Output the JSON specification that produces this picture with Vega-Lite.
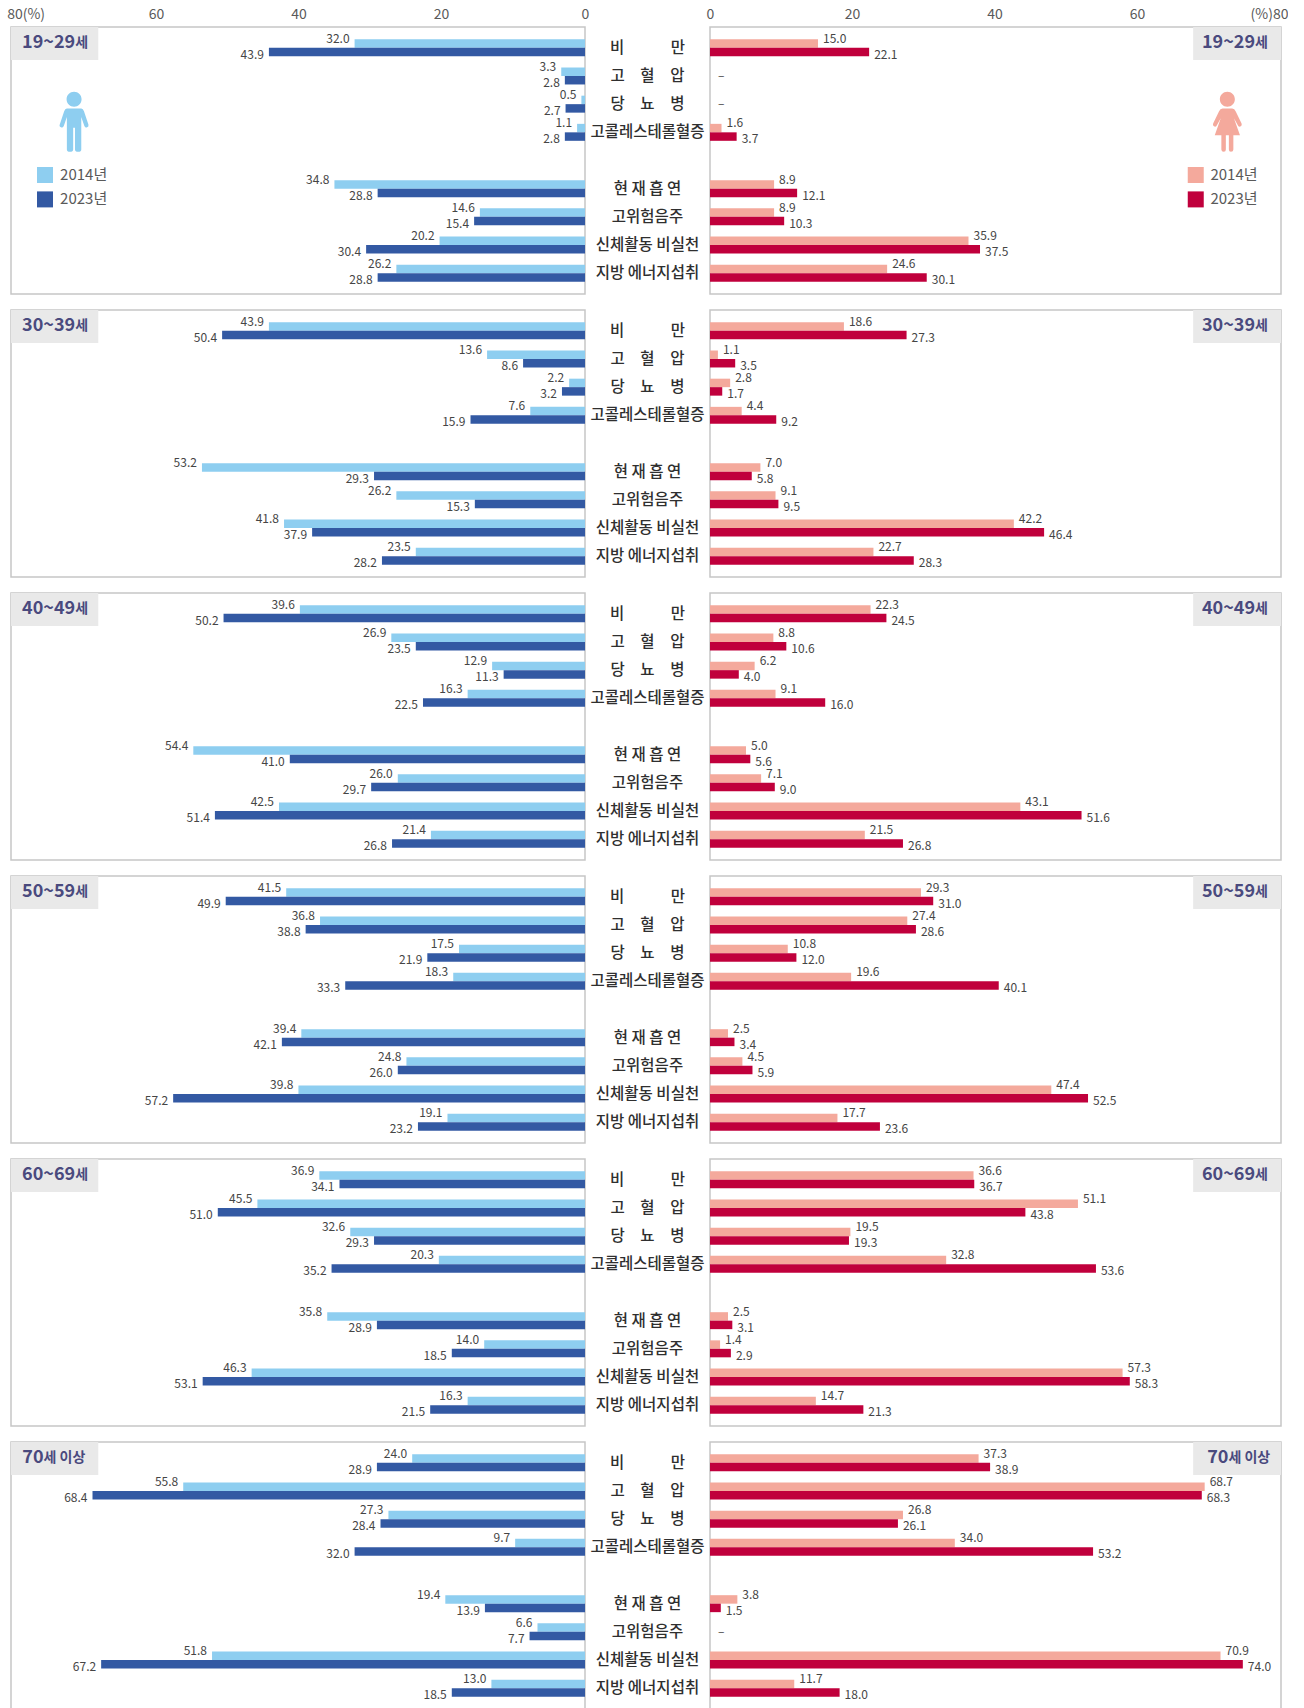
{
"$schema":"https://vega.github.io/schema/vega-lite/v6.json",
"background":"white",
"padding":{"left":6,"top":7,"right":0,"bottom":0},
"autosize":{"type":"pad"},
"config":{"font":"Noto Sans CJK KR","view":{"stroke":null},"concat":{"spacing":0},
"axisX":{"title":null,"domain":false,"ticks":false,"grid":false,"labelPadding":6,"labelFontSize":14,"labelColor":"#5a5a5a","labelFlush":false,"labelOverlap":false}},
"spacing":0,
"resolve":{"scale":{"color":"independent","x":"independent"}},
"datasets":{"rates":[
{"age":"19~29세","sex":"남","item":"비　　　만","year":"2014","value":32.0},{"age":"19~29세","sex":"남","item":"비　　　만","year":"2023","value":43.9},
{"age":"19~29세","sex":"남","item":"고　혈　압","year":"2014","value":3.3},{"age":"19~29세","sex":"남","item":"고　혈　압","year":"2023","value":2.8},
{"age":"19~29세","sex":"남","item":"당　뇨　병","year":"2014","value":0.5},{"age":"19~29세","sex":"남","item":"당　뇨　병","year":"2023","value":2.7},
{"age":"19~29세","sex":"남","item":"고콜레스테롤혈증","year":"2014","value":1.1},{"age":"19~29세","sex":"남","item":"고콜레스테롤혈증","year":"2023","value":2.8},
{"age":"19~29세","sex":"남","item":"현 재 흡 연","year":"2014","value":34.8},{"age":"19~29세","sex":"남","item":"현 재 흡 연","year":"2023","value":28.8},
{"age":"19~29세","sex":"남","item":"고위험음주","year":"2014","value":14.6},{"age":"19~29세","sex":"남","item":"고위험음주","year":"2023","value":15.4},
{"age":"19~29세","sex":"남","item":"신체활동 비실천","year":"2014","value":20.2},{"age":"19~29세","sex":"남","item":"신체활동 비실천","year":"2023","value":30.4},
{"age":"19~29세","sex":"남","item":"지방 에너지섭취","year":"2014","value":26.2},{"age":"19~29세","sex":"남","item":"지방 에너지섭취","year":"2023","value":28.8},
{"age":"30~39세","sex":"남","item":"비　　　만","year":"2014","value":43.9},{"age":"30~39세","sex":"남","item":"비　　　만","year":"2023","value":50.4},
{"age":"30~39세","sex":"남","item":"고　혈　압","year":"2014","value":13.6},{"age":"30~39세","sex":"남","item":"고　혈　압","year":"2023","value":8.6},
{"age":"30~39세","sex":"남","item":"당　뇨　병","year":"2014","value":2.2},{"age":"30~39세","sex":"남","item":"당　뇨　병","year":"2023","value":3.2},
{"age":"30~39세","sex":"남","item":"고콜레스테롤혈증","year":"2014","value":7.6},{"age":"30~39세","sex":"남","item":"고콜레스테롤혈증","year":"2023","value":15.9},
{"age":"30~39세","sex":"남","item":"현 재 흡 연","year":"2014","value":53.2},{"age":"30~39세","sex":"남","item":"현 재 흡 연","year":"2023","value":29.3},
{"age":"30~39세","sex":"남","item":"고위험음주","year":"2014","value":26.2},{"age":"30~39세","sex":"남","item":"고위험음주","year":"2023","value":15.3},
{"age":"30~39세","sex":"남","item":"신체활동 비실천","year":"2014","value":41.8},{"age":"30~39세","sex":"남","item":"신체활동 비실천","year":"2023","value":37.9},
{"age":"30~39세","sex":"남","item":"지방 에너지섭취","year":"2014","value":23.5},{"age":"30~39세","sex":"남","item":"지방 에너지섭취","year":"2023","value":28.2},
{"age":"40~49세","sex":"남","item":"비　　　만","year":"2014","value":39.6},{"age":"40~49세","sex":"남","item":"비　　　만","year":"2023","value":50.2},
{"age":"40~49세","sex":"남","item":"고　혈　압","year":"2014","value":26.9},{"age":"40~49세","sex":"남","item":"고　혈　압","year":"2023","value":23.5},
{"age":"40~49세","sex":"남","item":"당　뇨　병","year":"2014","value":12.9},{"age":"40~49세","sex":"남","item":"당　뇨　병","year":"2023","value":11.3},
{"age":"40~49세","sex":"남","item":"고콜레스테롤혈증","year":"2014","value":16.3},{"age":"40~49세","sex":"남","item":"고콜레스테롤혈증","year":"2023","value":22.5},
{"age":"40~49세","sex":"남","item":"현 재 흡 연","year":"2014","value":54.4},{"age":"40~49세","sex":"남","item":"현 재 흡 연","year":"2023","value":41.0},
{"age":"40~49세","sex":"남","item":"고위험음주","year":"2014","value":26.0},{"age":"40~49세","sex":"남","item":"고위험음주","year":"2023","value":29.7},
{"age":"40~49세","sex":"남","item":"신체활동 비실천","year":"2014","value":42.5},{"age":"40~49세","sex":"남","item":"신체활동 비실천","year":"2023","value":51.4},
{"age":"40~49세","sex":"남","item":"지방 에너지섭취","year":"2014","value":21.4},{"age":"40~49세","sex":"남","item":"지방 에너지섭취","year":"2023","value":26.8},
{"age":"50~59세","sex":"남","item":"비　　　만","year":"2014","value":41.5},{"age":"50~59세","sex":"남","item":"비　　　만","year":"2023","value":49.9},
{"age":"50~59세","sex":"남","item":"고　혈　압","year":"2014","value":36.8},{"age":"50~59세","sex":"남","item":"고　혈　압","year":"2023","value":38.8},
{"age":"50~59세","sex":"남","item":"당　뇨　병","year":"2014","value":17.5},{"age":"50~59세","sex":"남","item":"당　뇨　병","year":"2023","value":21.9},
{"age":"50~59세","sex":"남","item":"고콜레스테롤혈증","year":"2014","value":18.3},{"age":"50~59세","sex":"남","item":"고콜레스테롤혈증","year":"2023","value":33.3},
{"age":"50~59세","sex":"남","item":"현 재 흡 연","year":"2014","value":39.4},{"age":"50~59세","sex":"남","item":"현 재 흡 연","year":"2023","value":42.1},
{"age":"50~59세","sex":"남","item":"고위험음주","year":"2014","value":24.8},{"age":"50~59세","sex":"남","item":"고위험음주","year":"2023","value":26.0},
{"age":"50~59세","sex":"남","item":"신체활동 비실천","year":"2014","value":39.8},{"age":"50~59세","sex":"남","item":"신체활동 비실천","year":"2023","value":57.2},
{"age":"50~59세","sex":"남","item":"지방 에너지섭취","year":"2014","value":19.1},{"age":"50~59세","sex":"남","item":"지방 에너지섭취","year":"2023","value":23.2},
{"age":"60~69세","sex":"남","item":"비　　　만","year":"2014","value":36.9},{"age":"60~69세","sex":"남","item":"비　　　만","year":"2023","value":34.1},
{"age":"60~69세","sex":"남","item":"고　혈　압","year":"2014","value":45.5},{"age":"60~69세","sex":"남","item":"고　혈　압","year":"2023","value":51.0},
{"age":"60~69세","sex":"남","item":"당　뇨　병","year":"2014","value":32.6},{"age":"60~69세","sex":"남","item":"당　뇨　병","year":"2023","value":29.3},
{"age":"60~69세","sex":"남","item":"고콜레스테롤혈증","year":"2014","value":20.3},{"age":"60~69세","sex":"남","item":"고콜레스테롤혈증","year":"2023","value":35.2},
{"age":"60~69세","sex":"남","item":"현 재 흡 연","year":"2014","value":35.8},{"age":"60~69세","sex":"남","item":"현 재 흡 연","year":"2023","value":28.9},
{"age":"60~69세","sex":"남","item":"고위험음주","year":"2014","value":14.0},{"age":"60~69세","sex":"남","item":"고위험음주","year":"2023","value":18.5},
{"age":"60~69세","sex":"남","item":"신체활동 비실천","year":"2014","value":46.3},{"age":"60~69세","sex":"남","item":"신체활동 비실천","year":"2023","value":53.1},
{"age":"60~69세","sex":"남","item":"지방 에너지섭취","year":"2014","value":16.3},{"age":"60~69세","sex":"남","item":"지방 에너지섭취","year":"2023","value":21.5},
{"age":"70세 이상","sex":"남","item":"비　　　만","year":"2014","value":24.0},{"age":"70세 이상","sex":"남","item":"비　　　만","year":"2023","value":28.9},
{"age":"70세 이상","sex":"남","item":"고　혈　압","year":"2014","value":55.8},{"age":"70세 이상","sex":"남","item":"고　혈　압","year":"2023","value":68.4},
{"age":"70세 이상","sex":"남","item":"당　뇨　병","year":"2014","value":27.3},{"age":"70세 이상","sex":"남","item":"당　뇨　병","year":"2023","value":28.4},
{"age":"70세 이상","sex":"남","item":"고콜레스테롤혈증","year":"2014","value":9.7},{"age":"70세 이상","sex":"남","item":"고콜레스테롤혈증","year":"2023","value":32.0},
{"age":"70세 이상","sex":"남","item":"현 재 흡 연","year":"2014","value":19.4},{"age":"70세 이상","sex":"남","item":"현 재 흡 연","year":"2023","value":13.9},
{"age":"70세 이상","sex":"남","item":"고위험음주","year":"2014","value":6.6},{"age":"70세 이상","sex":"남","item":"고위험음주","year":"2023","value":7.7},
{"age":"70세 이상","sex":"남","item":"신체활동 비실천","year":"2014","value":51.8},{"age":"70세 이상","sex":"남","item":"신체활동 비실천","year":"2023","value":67.2},
{"age":"70세 이상","sex":"남","item":"지방 에너지섭취","year":"2014","value":13.0},{"age":"70세 이상","sex":"남","item":"지방 에너지섭취","year":"2023","value":18.5},
{"age":"19~29세","sex":"여","item":"비　　　만","year":"2014","value":15.0},{"age":"19~29세","sex":"여","item":"비　　　만","year":"2023","value":22.1},
{"age":"19~29세","sex":"여","item":"고　혈　압","year":"2014","value":null},{"age":"19~29세","sex":"여","item":"고　혈　압","year":"2023","value":null},
{"age":"19~29세","sex":"여","item":"당　뇨　병","year":"2014","value":null},{"age":"19~29세","sex":"여","item":"당　뇨　병","year":"2023","value":null},
{"age":"19~29세","sex":"여","item":"고콜레스테롤혈증","year":"2014","value":1.6},{"age":"19~29세","sex":"여","item":"고콜레스테롤혈증","year":"2023","value":3.7},
{"age":"19~29세","sex":"여","item":"현 재 흡 연","year":"2014","value":8.9},{"age":"19~29세","sex":"여","item":"현 재 흡 연","year":"2023","value":12.1},
{"age":"19~29세","sex":"여","item":"고위험음주","year":"2014","value":8.9},{"age":"19~29세","sex":"여","item":"고위험음주","year":"2023","value":10.3},
{"age":"19~29세","sex":"여","item":"신체활동 비실천","year":"2014","value":35.9},{"age":"19~29세","sex":"여","item":"신체활동 비실천","year":"2023","value":37.5},
{"age":"19~29세","sex":"여","item":"지방 에너지섭취","year":"2014","value":24.6},{"age":"19~29세","sex":"여","item":"지방 에너지섭취","year":"2023","value":30.1},
{"age":"30~39세","sex":"여","item":"비　　　만","year":"2014","value":18.6},{"age":"30~39세","sex":"여","item":"비　　　만","year":"2023","value":27.3},
{"age":"30~39세","sex":"여","item":"고　혈　압","year":"2014","value":1.1},{"age":"30~39세","sex":"여","item":"고　혈　압","year":"2023","value":3.5},
{"age":"30~39세","sex":"여","item":"당　뇨　병","year":"2014","value":2.8},{"age":"30~39세","sex":"여","item":"당　뇨　병","year":"2023","value":1.7},
{"age":"30~39세","sex":"여","item":"고콜레스테롤혈증","year":"2014","value":4.4},{"age":"30~39세","sex":"여","item":"고콜레스테롤혈증","year":"2023","value":9.2},
{"age":"30~39세","sex":"여","item":"현 재 흡 연","year":"2014","value":7.0},{"age":"30~39세","sex":"여","item":"현 재 흡 연","year":"2023","value":5.8},
{"age":"30~39세","sex":"여","item":"고위험음주","year":"2014","value":9.1},{"age":"30~39세","sex":"여","item":"고위험음주","year":"2023","value":9.5},
{"age":"30~39세","sex":"여","item":"신체활동 비실천","year":"2014","value":42.2},{"age":"30~39세","sex":"여","item":"신체활동 비실천","year":"2023","value":46.4},
{"age":"30~39세","sex":"여","item":"지방 에너지섭취","year":"2014","value":22.7},{"age":"30~39세","sex":"여","item":"지방 에너지섭취","year":"2023","value":28.3},
{"age":"40~49세","sex":"여","item":"비　　　만","year":"2014","value":22.3},{"age":"40~49세","sex":"여","item":"비　　　만","year":"2023","value":24.5},
{"age":"40~49세","sex":"여","item":"고　혈　압","year":"2014","value":8.8},{"age":"40~49세","sex":"여","item":"고　혈　압","year":"2023","value":10.6},
{"age":"40~49세","sex":"여","item":"당　뇨　병","year":"2014","value":6.2},{"age":"40~49세","sex":"여","item":"당　뇨　병","year":"2023","value":4.0},
{"age":"40~49세","sex":"여","item":"고콜레스테롤혈증","year":"2014","value":9.1},{"age":"40~49세","sex":"여","item":"고콜레스테롤혈증","year":"2023","value":16.0},
{"age":"40~49세","sex":"여","item":"현 재 흡 연","year":"2014","value":5.0},{"age":"40~49세","sex":"여","item":"현 재 흡 연","year":"2023","value":5.6},
{"age":"40~49세","sex":"여","item":"고위험음주","year":"2014","value":7.1},{"age":"40~49세","sex":"여","item":"고위험음주","year":"2023","value":9.0},
{"age":"40~49세","sex":"여","item":"신체활동 비실천","year":"2014","value":43.1},{"age":"40~49세","sex":"여","item":"신체활동 비실천","year":"2023","value":51.6},
{"age":"40~49세","sex":"여","item":"지방 에너지섭취","year":"2014","value":21.5},{"age":"40~49세","sex":"여","item":"지방 에너지섭취","year":"2023","value":26.8},
{"age":"50~59세","sex":"여","item":"비　　　만","year":"2014","value":29.3},{"age":"50~59세","sex":"여","item":"비　　　만","year":"2023","value":31.0},
{"age":"50~59세","sex":"여","item":"고　혈　압","year":"2014","value":27.4},{"age":"50~59세","sex":"여","item":"고　혈　압","year":"2023","value":28.6},
{"age":"50~59세","sex":"여","item":"당　뇨　병","year":"2014","value":10.8},{"age":"50~59세","sex":"여","item":"당　뇨　병","year":"2023","value":12.0},
{"age":"50~59세","sex":"여","item":"고콜레스테롤혈증","year":"2014","value":19.6},{"age":"50~59세","sex":"여","item":"고콜레스테롤혈증","year":"2023","value":40.1},
{"age":"50~59세","sex":"여","item":"현 재 흡 연","year":"2014","value":2.5},{"age":"50~59세","sex":"여","item":"현 재 흡 연","year":"2023","value":3.4},
{"age":"50~59세","sex":"여","item":"고위험음주","year":"2014","value":4.5},{"age":"50~59세","sex":"여","item":"고위험음주","year":"2023","value":5.9},
{"age":"50~59세","sex":"여","item":"신체활동 비실천","year":"2014","value":47.4},{"age":"50~59세","sex":"여","item":"신체활동 비실천","year":"2023","value":52.5},
{"age":"50~59세","sex":"여","item":"지방 에너지섭취","year":"2014","value":17.7},{"age":"50~59세","sex":"여","item":"지방 에너지섭취","year":"2023","value":23.6},
{"age":"60~69세","sex":"여","item":"비　　　만","year":"2014","value":36.6},{"age":"60~69세","sex":"여","item":"비　　　만","year":"2023","value":36.7},
{"age":"60~69세","sex":"여","item":"고　혈　압","year":"2014","value":51.1},{"age":"60~69세","sex":"여","item":"고　혈　압","year":"2023","value":43.8},
{"age":"60~69세","sex":"여","item":"당　뇨　병","year":"2014","value":19.5},{"age":"60~69세","sex":"여","item":"당　뇨　병","year":"2023","value":19.3},
{"age":"60~69세","sex":"여","item":"고콜레스테롤혈증","year":"2014","value":32.8},{"age":"60~69세","sex":"여","item":"고콜레스테롤혈증","year":"2023","value":53.6},
{"age":"60~69세","sex":"여","item":"현 재 흡 연","year":"2014","value":2.5},{"age":"60~69세","sex":"여","item":"현 재 흡 연","year":"2023","value":3.1},
{"age":"60~69세","sex":"여","item":"고위험음주","year":"2014","value":1.4},{"age":"60~69세","sex":"여","item":"고위험음주","year":"2023","value":2.9},
{"age":"60~69세","sex":"여","item":"신체활동 비실천","year":"2014","value":57.3},{"age":"60~69세","sex":"여","item":"신체활동 비실천","year":"2023","value":58.3},
{"age":"60~69세","sex":"여","item":"지방 에너지섭취","year":"2014","value":14.7},{"age":"60~69세","sex":"여","item":"지방 에너지섭취","year":"2023","value":21.3},
{"age":"70세 이상","sex":"여","item":"비　　　만","year":"2014","value":37.3},{"age":"70세 이상","sex":"여","item":"비　　　만","year":"2023","value":38.9},
{"age":"70세 이상","sex":"여","item":"고　혈　압","year":"2014","value":68.7},{"age":"70세 이상","sex":"여","item":"고　혈　압","year":"2023","value":68.3},
{"age":"70세 이상","sex":"여","item":"당　뇨　병","year":"2014","value":26.8},{"age":"70세 이상","sex":"여","item":"당　뇨　병","year":"2023","value":26.1},
{"age":"70세 이상","sex":"여","item":"고콜레스테롤혈증","year":"2014","value":34.0},{"age":"70세 이상","sex":"여","item":"고콜레스테롤혈증","year":"2023","value":53.2},
{"age":"70세 이상","sex":"여","item":"현 재 흡 연","year":"2014","value":3.8},{"age":"70세 이상","sex":"여","item":"현 재 흡 연","year":"2023","value":1.5},
{"age":"70세 이상","sex":"여","item":"고위험음주","year":"2014","value":null},{"age":"70세 이상","sex":"여","item":"고위험음주","year":"2023","value":null},
{"age":"70세 이상","sex":"여","item":"신체활동 비실천","year":"2014","value":70.9},{"age":"70세 이상","sex":"여","item":"신체활동 비실천","year":"2023","value":74.0},
{"age":"70세 이상","sex":"여","item":"지방 에너지섭취","year":"2014","value":11.7},{"age":"70세 이상","sex":"여","item":"지방 에너지섭취","year":"2023","value":18.0}
]},
"data":{"name":"rates"},
"hconcat":[
{"transform":[{"filter":"datum.sex=='남'"}],
"facet":{"row":{"field":"age","type":"nominal","header":null}},
"spacing":16,"bounds":"flush",
"spec":{
"width":574,"height":267,
"view":{"stroke":"#c6c6c6","strokeWidth":1.5},
"resolve":{"scale":{"y":"independent","yOffset":"independent"}},
"layer":[
{"mark":{"type":"bar"},
"encoding":{
"x":{"field":"value","type":"quantitative","stack":null,"scale":{"domain":[0,79.72],"reverse":true,"nice":false},
"axis":{"orient":"top","values":[0,20,40,60,79.7],"labelExpr":"datum.value>70?'80(%)':datum.label","labelAlign":{"condition":{"test":"datum.value>70","value":"left"},"value":"center"},"labelOffset":{"condition":[{"test":"datum.value>70","value":-4.5},{"test":"datum.value==60","value":3},{"test":"datum.value==40","value":1.4}],"value":0}}},
"y":{"field":"item","type":"nominal","axis":null,"scale":{"type":"band","domain":["비　　　만","고　혈　압","당　뇨　병","고콜레스테롤혈증"," ","현 재 흡 연","고위험음주","신체활동 비실천","지방 에너지섭취"],"paddingInner":0,"paddingOuter":0.239}},
"yOffset":{"field":"year","scale":{"domain":["2014","2023"],"paddingInner":0,"paddingOuter":0.66}},
"color":{"field":"year","type":"nominal","legend":null,"scale":{"domain":["2014","2023"],"range":["#8ECEF0","#3359A3"]}}}},
{"transform":[{"filter":"datum.item=='비　　　만'&&datum.year=='2014'"}],
"mark":{"type":"rect","color":"#e9e9e9"},
"encoding":{"x":{"datum":79.72,"type":"quantitative","axis":{"orient":"top","values":[0,20,40,60,79.7],"labelExpr":"datum.value>70?'80(%)':datum.label"}},"x2":{"datum":67.6},"y":{"datum":0,"type":"quantitative","scale":{"domain":[0,1],"reverse":true},"axis":null},"y2":{"datum":0.124}}},
{"transform":[{"filter":"datum.year=='2014'"}],
"mark":{"type":"text","align":"right","baseline":"middle","dx":-5,"dy":-3,"fontSize":12,"color":"#454545"},
"encoding":{"x":{"field":"value","type":"quantitative","axis":{"orient":"top","values":[0,20,40,60,79.7],"labelExpr":"datum.value>70?'80(%)':datum.label"}},
"y":{"field":"item","type":"nominal","axis":null,"scale":{"type":"band","domain":["비　　　만","고　혈　압","당　뇨　병","고콜레스테롤혈증"," ","현 재 흡 연","고위험음주","신체활동 비실천","지방 에너지섭취"],"paddingInner":0,"paddingOuter":0.239}},
"yOffset":{"field":"year","scale":{"domain":["2014","2023"],"paddingInner":0,"paddingOuter":0.66}},
"text":{"field":"value","type":"quantitative","format":".1f"}}},
{"transform":[{"filter":"datum.year=='2023'"}],
"mark":{"type":"text","align":"right","baseline":"middle","dx":-5,"dy":1,"fontSize":12,"color":"#454545"},
"encoding":{"x":{"field":"value","type":"quantitative","axis":{"orient":"top","values":[0,20,40,60,79.7],"labelExpr":"datum.value>70?'80(%)':datum.label"}},
"y":{"field":"item","type":"nominal","axis":null,"scale":{"type":"band","domain":["비　　　만","고　혈　압","당　뇨　병","고콜레스테롤혈증"," ","현 재 흡 연","고위험음주","신체활동 비실천","지방 에너지섭취"],"paddingInner":0,"paddingOuter":0.239}},
"yOffset":{"field":"year","scale":{"domain":["2014","2023"],"paddingInner":0,"paddingOuter":0.66}},
"text":{"field":"value","type":"quantitative","format":".1f"}}},
{"transform":[{"filter":"datum.item=='비　　　만'&&datum.year=='2014'&&datum.age!='70세 이상'"},{"calculate":"split(datum.age,'세')[0]","as":"num"}],
"mark":{"type":"text","align":"right","baseline":"middle","fontSize":18,"fontWeight":"bold","color":"#4A4A7E"},
"encoding":{"x":{"datum":70.8,"type":"quantitative","axis":{"orient":"top","values":[0,20,40,60,79.7],"labelExpr":"datum.value>70?'80(%)':datum.label"}},"y":{"datum":0.061,"type":"quantitative","scale":{"domain":[0,1],"reverse":true},"axis":null},"text":{"field":"num"}}},
{"transform":[{"filter":"datum.item=='비　　　만'&&datum.year=='2014'&&datum.age!='70세 이상'"},{"calculate":"'세'","as":"unit"}],
"mark":{"type":"text","align":"left","baseline":"middle","fontSize":14,"fontWeight":"bold","color":"#4A4A7E"},
"encoding":{"x":{"datum":70.8,"type":"quantitative","axis":{"orient":"top","values":[0,20,40,60,79.7],"labelExpr":"datum.value>70?'80(%)':datum.label"}},"y":{"datum":0.061,"type":"quantitative","scale":{"domain":[0,1],"reverse":true},"axis":null},"text":{"field":"unit"}}},
{"transform":[{"filter":"datum.item=='비　　　만'&&datum.year=='2014'&&datum.age=='70세 이상'"},{"calculate":"split(datum.age,'세')[0]","as":"num"}],
"mark":{"type":"text","align":"right","baseline":"middle","fontSize":18,"fontWeight":"bold","color":"#4A4A7E"},
"encoding":{"x":{"datum":75.2,"type":"quantitative","axis":{"orient":"top","values":[0,20,40,60,79.7],"labelExpr":"datum.value>70?'80(%)':datum.label"}},"y":{"datum":0.061,"type":"quantitative","scale":{"domain":[0,1],"reverse":true},"axis":null},"text":{"field":"num"}}},
{"transform":[{"filter":"datum.item=='비　　　만'&&datum.year=='2014'&&datum.age=='70세 이상'"},{"calculate":"'세 이상'","as":"unit"}],
"mark":{"type":"text","align":"left","baseline":"middle","fontSize":14,"fontWeight":"bold","color":"#4A4A7E"},
"encoding":{"x":{"datum":75.2,"type":"quantitative","axis":{"orient":"top","values":[0,20,40,60,79.7],"labelExpr":"datum.value>70?'80(%)':datum.label"}},"y":{"datum":0.061,"type":"quantitative","scale":{"domain":[0,1],"reverse":true},"axis":null},"text":{"field":"unit"}}},
{"transform":[{"filter":"datum.age=='19~29세'&&datum.item=='비　　　만'&&datum.year=='2014'"}],
"mark":{"type":"point","shape":"M0,-1A.25,.25 0 1,1 0,-.5A.25,.25 0 1,1 0,-1ZM-.24,-.44L.24,-.44Q.3,-.44 .33,-.35L.48,.1Q.5,.17 .42,.19Q.37,.2 .34,.13L.24,-.16L.24,.92Q.24,1 .14,1Q.03,1 .03,.92L.03,.2L-.03,.2L-.03,.92Q-.03,1 -.14,1Q-.24,1 -.24,.92L-.24,-.16L-.34,.13Q-.37,.2 -.42,.19Q-.5,.17 -.48,.1L-.33,-.35Q-.3,-.44 -.24,-.44Z","size":3600,"filled":true,"opacity":1,"color":"#8ECEF0","strokeWidth":0},
"encoding":{"x":{"datum":70.96,"type":"quantitative","axis":{"orient":"top","values":[0,20,40,60,79.7],"labelExpr":"datum.value>70?'80(%)':datum.label"}},"y":{"datum":0.355,"type":"quantitative","scale":{"domain":[0,1],"reverse":true},"axis":null}}},
{"transform":[{"filter":"datum.age=='19~29세'&&datum.item=='비　　　만'"}],
"mark":{"type":"square","size":256,"opacity":1},
"encoding":{"x":{"datum":75,"type":"quantitative","axis":{"orient":"top","values":[0,20,40,60,79.7],"labelExpr":"datum.value>70?'80(%)':datum.label"}},"y":{"field":"year","type":"nominal","axis":null,"scale":{"type":"point","padding":0,"domain":["2014","2023"],"range":[148,172.4]}},"color":{"field":"year","type":"nominal","legend":null}}},
{"transform":[{"filter":"datum.age=='19~29세'&&datum.item=='비　　　만'"},{"calculate":"datum.year+'년'","as":"yearLabel"}],
"mark":{"type":"text","align":"left","baseline":"middle","fontSize":15,"color":"#5a5a5a"},
"encoding":{"x":{"datum":72.9,"type":"quantitative","axis":{"orient":"top","values":[0,20,40,60,79.7],"labelExpr":"datum.value>70?'80(%)':datum.label"}},"y":{"field":"year","type":"nominal","axis":null,"scale":{"type":"point","padding":0,"domain":["2014","2023"],"range":[148,172.4]}},"text":{"field":"yearLabel"}}}
]}},
{"transform":[{"filter":"datum.sex=='남'&&datum.year=='2014'"}],
"facet":{"row":{"field":"age","type":"nominal","header":null}},
"spacing":16,"bounds":"flush",
"spec":{
"width":117,"height":267,
"mark":{"type":"text","align":"center","baseline":"middle","fontSize":15.5,"fontWeight":500,"color":"#2f2f2f"},
"encoding":{
"x":{"datum":0.5,"type":"quantitative","scale":{"domain":[0,1]},"axis":{"orient":"top","values":[0.5],"labelColor":"transparent","labelExpr":"'0'"}},
"y":{"field":"item","type":"nominal","axis":null,"scale":{"type":"band","domain":["비　　　만","고　혈　압","당　뇨　병","고콜레스테롤혈증"," ","현 재 흡 연","고위험음주","신체활동 비실천","지방 에너지섭취"],"paddingInner":0,"paddingOuter":0.239}},
"text":{"field":"item"}}}},
{"transform":[{"filter":"datum.sex=='여'"}],
"facet":{"row":{"field":"age","type":"nominal","header":null}},
"spacing":16,"bounds":"flush",
"spec":{
"width":571,"height":267,
"view":{"stroke":"#c6c6c6","strokeWidth":1.5},
"resolve":{"scale":{"y":"independent","yOffset":"independent"}},
"layer":[
{"mark":{"type":"bar"},
"encoding":{
"x":{"field":"value","type":"quantitative","stack":null,"scale":{"domain":[0,79.3],"nice":false},
"axis":{"orient":"top","values":[0,20,40,60,79.3],"labelExpr":"datum.value>70?'(%)80':datum.label","labelAlign":{"condition":{"test":"datum.value>70","value":"right"},"value":"center"},"labelOffset":{"condition":[{"test":"datum.value>70","value":7},{"test":"datum.value==60","value":-5},{"test":"datum.value==40","value":-3.5},{"test":"datum.value==20","value":-2}],"value":0}}},
"y":{"field":"item","type":"nominal","axis":null,"scale":{"type":"band","domain":["비　　　만","고　혈　압","당　뇨　병","고콜레스테롤혈증"," ","현 재 흡 연","고위험음주","신체활동 비실천","지방 에너지섭취"],"paddingInner":0,"paddingOuter":0.239}},
"yOffset":{"field":"year","scale":{"domain":["2014","2023"],"paddingInner":0,"paddingOuter":0.66}},
"color":{"field":"year","type":"nominal","legend":null,"scale":{"domain":["2014","2023"],"range":["#F4A99C","#C0003C"]}}}},
{"transform":[{"filter":"datum.item=='비　　　만'&&datum.year=='2014'"}],
"mark":{"type":"rect","color":"#e9e9e9"},
"encoding":{"x":{"datum":67.1,"type":"quantitative","axis":{"orient":"top","values":[0,20,40,60,79.3],"labelExpr":"datum.value>70?'(%)80':datum.label"}},"x2":{"datum":79.3},"y":{"datum":0,"type":"quantitative","scale":{"domain":[0,1],"reverse":true},"axis":null},"y2":{"datum":0.124}}},
{"transform":[{"filter":"datum.year=='2014'&&datum.value!=null"}],
"mark":{"type":"text","align":"left","baseline":"middle","dx":5,"dy":-3,"fontSize":12,"color":"#454545"},
"encoding":{"x":{"field":"value","type":"quantitative","axis":{"orient":"top","values":[0,20,40,60,79.3],"labelExpr":"datum.value>70?'(%)80':datum.label"}},
"y":{"field":"item","type":"nominal","axis":null,"scale":{"type":"band","domain":["비　　　만","고　혈　압","당　뇨　병","고콜레스테롤혈증"," ","현 재 흡 연","고위험음주","신체활동 비실천","지방 에너지섭취"],"paddingInner":0,"paddingOuter":0.239}},
"yOffset":{"field":"year","scale":{"domain":["2014","2023"],"paddingInner":0,"paddingOuter":0.66}},
"text":{"field":"value","type":"quantitative","format":".1f"}}},
{"transform":[{"filter":"datum.year=='2023'&&datum.value!=null"}],
"mark":{"type":"text","align":"left","baseline":"middle","dx":5,"dy":1,"fontSize":12,"color":"#454545"},
"encoding":{"x":{"field":"value","type":"quantitative","axis":{"orient":"top","values":[0,20,40,60,79.3],"labelExpr":"datum.value>70?'(%)80':datum.label"}},
"y":{"field":"item","type":"nominal","axis":null,"scale":{"type":"band","domain":["비　　　만","고　혈　압","당　뇨　병","고콜레스테롤혈증"," ","현 재 흡 연","고위험음주","신체활동 비실천","지방 에너지섭취"],"paddingInner":0,"paddingOuter":0.239}},
"yOffset":{"field":"year","scale":{"domain":["2014","2023"],"paddingInner":0,"paddingOuter":0.66}},
"text":{"field":"value","type":"quantitative","format":".1f"}}},
{"transform":[{"filter":"datum.year=='2014'&&datum.value==null"},{"calculate":"'–'","as":"noData"}],
"mark":{"type":"text","align":"left","baseline":"middle","dx":8,"fontSize":12,"color":"#454545"},
"encoding":{"x":{"datum":0,"type":"quantitative","axis":{"orient":"top","values":[0,20,40,60,79.3],"labelExpr":"datum.value>70?'(%)80':datum.label"}},
"y":{"field":"item","type":"nominal","axis":null,"scale":{"type":"band","domain":["비　　　만","고　혈　압","당　뇨　병","고콜레스테롤혈증"," ","현 재 흡 연","고위험음주","신체활동 비실천","지방 에너지섭취"],"paddingInner":0,"paddingOuter":0.239}},
"text":{"field":"noData"}}},
{"transform":[{"filter":"datum.item=='비　　　만'&&datum.year=='2014'&&datum.age!='70세 이상'"},{"calculate":"split(datum.age,'세')[0]","as":"num"}],
"mark":{"type":"text","align":"right","baseline":"middle","fontSize":18,"fontWeight":"bold","color":"#4A4A7E"},
"encoding":{"x":{"datum":75.7,"type":"quantitative","axis":{"orient":"top","values":[0,20,40,60,79.3],"labelExpr":"datum.value>70?'(%)80':datum.label"}},"y":{"datum":0.061,"type":"quantitative","scale":{"domain":[0,1],"reverse":true},"axis":null},"text":{"field":"num"}}},
{"transform":[{"filter":"datum.item=='비　　　만'&&datum.year=='2014'&&datum.age!='70세 이상'"},{"calculate":"'세'","as":"unit"}],
"mark":{"type":"text","align":"left","baseline":"middle","fontSize":14,"fontWeight":"bold","color":"#4A4A7E"},
"encoding":{"x":{"datum":75.7,"type":"quantitative","axis":{"orient":"top","values":[0,20,40,60,79.3],"labelExpr":"datum.value>70?'(%)80':datum.label"}},"y":{"datum":0.061,"type":"quantitative","scale":{"domain":[0,1],"reverse":true},"axis":null},"text":{"field":"unit"}}},
{"transform":[{"filter":"datum.item=='비　　　만'&&datum.year=='2014'&&datum.age=='70세 이상'"},{"calculate":"split(datum.age,'세')[0]","as":"num"}],
"mark":{"type":"text","align":"right","baseline":"middle","fontSize":18,"fontWeight":"bold","color":"#4A4A7E"},
"encoding":{"x":{"datum":72,"type":"quantitative","axis":{"orient":"top","values":[0,20,40,60,79.3],"labelExpr":"datum.value>70?'(%)80':datum.label"}},"y":{"datum":0.061,"type":"quantitative","scale":{"domain":[0,1],"reverse":true},"axis":null},"text":{"field":"num"}}},
{"transform":[{"filter":"datum.item=='비　　　만'&&datum.year=='2014'&&datum.age=='70세 이상'"},{"calculate":"'세 이상'","as":"unit"}],
"mark":{"type":"text","align":"left","baseline":"middle","fontSize":14,"fontWeight":"bold","color":"#4A4A7E"},
"encoding":{"x":{"datum":72,"type":"quantitative","axis":{"orient":"top","values":[0,20,40,60,79.3],"labelExpr":"datum.value>70?'(%)80':datum.label"}},"y":{"datum":0.061,"type":"quantitative","scale":{"domain":[0,1],"reverse":true},"axis":null},"text":{"field":"unit"}}},
{"transform":[{"filter":"datum.age=='19~29세'&&datum.item=='비　　　만'&&datum.year=='2014'"}],
"mark":{"type":"point","shape":"M0,-1A.25,.25 0 1,1 0,-.5A.25,.25 0 1,1 0,-1ZM-.16,-.44L.16,-.44Q.24,-.44 .28,-.34L.47,.05Q.5,.13 .43,.16Q.37,.18 .34,.1L.22,-.12L.42,.45L.2,.45L.2,.92Q.2,1 .12,1Q.05,1 .05,.92L.05,.45L-.05,.45L-.05,.92Q-.05,1 -.12,1Q-.2,1 -.2,.92L-.2,.45L-.42,.45L-.22,-.12L-.34,.1Q-.37,.18 -.43,.16Q-.5,.13 -.47,.05L-.28,-.34Q-.24,-.44 -.16,-.44Z","size":3600,"filled":true,"opacity":1,"color":"#F4A99C","strokeWidth":0},
"encoding":{"x":{"datum":71.85,"type":"quantitative","axis":{"orient":"top","values":[0,20,40,60,79.3],"labelExpr":"datum.value>70?'(%)80':datum.label"}},"y":{"datum":0.355,"type":"quantitative","scale":{"domain":[0,1],"reverse":true},"axis":null}}},
{"transform":[{"filter":"datum.age=='19~29세'&&datum.item=='비　　　만'"}],
"mark":{"type":"square","size":256,"opacity":1},
"encoding":{"x":{"datum":67.46,"type":"quantitative","axis":{"orient":"top","values":[0,20,40,60,79.3],"labelExpr":"datum.value>70?'(%)80':datum.label"}},"y":{"field":"year","type":"nominal","axis":null,"scale":{"type":"point","padding":0,"domain":["2014","2023"],"range":[148,172.4]}},"color":{"field":"year","type":"nominal","legend":null}}},
{"transform":[{"filter":"datum.age=='19~29세'&&datum.item=='비　　　만'"},{"calculate":"datum.year+'년'","as":"yearLabel"}],
"mark":{"type":"text","align":"left","baseline":"middle","fontSize":15,"color":"#5a5a5a"},
"encoding":{"x":{"datum":69.5,"type":"quantitative","axis":{"orient":"top","values":[0,20,40,60,79.3],"labelExpr":"datum.value>70?'(%)80':datum.label"}},"y":{"field":"year","type":"nominal","axis":null,"scale":{"type":"point","padding":0,"domain":["2014","2023"],"range":[148,172.4]}},"text":{"field":"yearLabel"}}}
]}}
]
}
